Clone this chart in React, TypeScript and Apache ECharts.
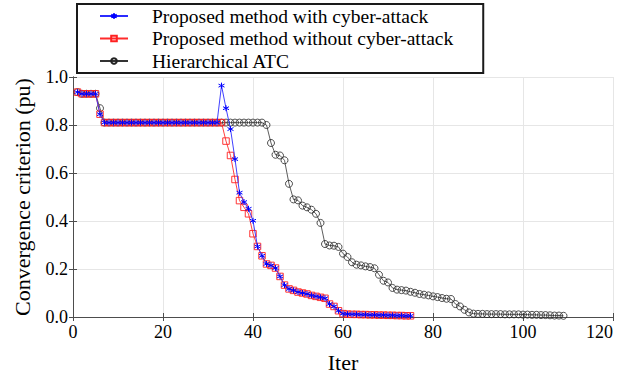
import React, { useEffect, useRef } from "react";
import * as echarts from "echarts";

const xTicks = { min: 0, max: 120, interval: 20 };
const yTicks = { min: 0, max: 1, interval: 0.2 };

const seriesNames = [
  "Proposed method with cyber-attack",
  "Proposed method without cyber-attack",
  "Hierarchical ATC",
];

// Proposed method with cyber-attack, iterations 1..75
const withAttack = [
  0.937, 0.93, 0.93, 0.93, 0.93, 0.845, 0.81, 0.81, 0.81, 0.81,
  0.81, 0.81, 0.81, 0.81, 0.81, 0.81, 0.81, 0.81, 0.81, 0.81,
  0.81, 0.81, 0.81, 0.81, 0.81, 0.81, 0.81, 0.81, 0.81, 0.81,
  0.81, 0.81, 0.964, 0.87, 0.783, 0.658, 0.518, 0.479, 0.451, 0.401,
  0.294, 0.255, 0.221, 0.215, 0.204, 0.169, 0.133, 0.117, 0.111, 0.104,
  0.1, 0.096, 0.09, 0.086, 0.082, 0.078, 0.054, 0.044, 0.026, 0.014,
  0.012, 0.011, 0.011, 0.01, 0.01, 0.009, 0.009, 0.008, 0.008, 0.007,
  0.007, 0.006, 0.006, 0.005, 0.005,
];

// Proposed method without cyber-attack, iterations 1..75
const withoutAttack = [
  0.937, 0.93, 0.93, 0.93, 0.93, 0.845, 0.81, 0.81, 0.81, 0.81,
  0.81, 0.81, 0.81, 0.81, 0.81, 0.81, 0.81, 0.81, 0.81, 0.81,
  0.81, 0.81, 0.81, 0.81, 0.81, 0.81, 0.81, 0.81, 0.81, 0.81,
  0.81, 0.81, 0.81, 0.733, 0.673, 0.573, 0.485, 0.457, 0.43, 0.347,
  0.294, 0.255, 0.221, 0.215, 0.204, 0.169, 0.133, 0.117, 0.111, 0.104,
  0.1, 0.096, 0.09, 0.086, 0.082, 0.078, 0.054, 0.044, 0.026, 0.014,
  0.012, 0.011, 0.011, 0.01, 0.01, 0.009, 0.009, 0.008, 0.008, 0.007,
  0.007, 0.006, 0.006, 0.005, 0.005,
];

// Hierarchical ATC, iterations 1..109
const hierarchicalATC = [
  0.937, 0.93, 0.93, 0.93, 0.93, 0.87, 0.81, 0.81, 0.81, 0.81,
  0.81, 0.81, 0.81, 0.81, 0.81, 0.81, 0.81, 0.81, 0.81, 0.81,
  0.81, 0.81, 0.81, 0.81, 0.81, 0.81, 0.81, 0.81, 0.81, 0.81,
  0.81, 0.81, 0.81, 0.81, 0.81, 0.81, 0.81, 0.81, 0.81, 0.81,
  0.81, 0.81, 0.8, 0.725, 0.676, 0.673, 0.653, 0.555, 0.49, 0.486,
  0.464, 0.457, 0.447, 0.43, 0.392, 0.304, 0.298, 0.297, 0.292, 0.264,
  0.25, 0.228, 0.218, 0.215, 0.211, 0.208, 0.203, 0.176, 0.151, 0.144,
  0.121, 0.114, 0.112, 0.11, 0.105, 0.101, 0.096, 0.093, 0.09, 0.086,
  0.083, 0.079, 0.076, 0.075, 0.054, 0.044, 0.03, 0.019, 0.014, 0.013,
  0.013, 0.012, 0.012, 0.012, 0.012, 0.011, 0.011, 0.011, 0.011, 0.01,
  0.01, 0.009, 0.009, 0.008, 0.008, 0.007, 0.006, 0.006, 0.005,
];

const toPairs = (arr: number[]) => arr.map((v, i) => [i + 1, v]);

const FONT = "Liberation Serif";
const ASTERISK =
  "path://M0,-1L0,1M-0.866,-0.5L0.866,0.5M-0.866,0.5L0.866,-0.5";

export default function App() {
  const ref = useRef<HTMLDivElement>(null);

  useEffect(() => {
    if (!ref.current) return;
    const chart = echarts.init(ref.current, undefined, { renderer: "svg" });
    const axisLineColor = "#4d4d4d";
    const gridColor = "#e6e6e6";
    const labelStyle = { fontFamily: FONT, fontSize: 18, color: "#000" };

    chart.setOption({
      animation: false,
      backgroundColor: "#fff",
      textStyle: { fontFamily: FONT },
      grid: {
        left: 73,
        right: 6,
        top: 77,
        bottom: 56,
        containLabel: false,
        outerBoundsMode: "none",
      },
      legend: {
        data: seriesNames,
        orient: "vertical",
        left: 77,
        top: 4,
        padding: [2, 30, 2, 22],
        itemGap: 2.5,
        itemWidth: 28,
        itemHeight: 7,
        borderColor: "#1a1a1a",
        borderWidth: 2,
        backgroundColor: "#fff",
        textStyle: {
          fontFamily: FONT,
          fontSize: 19.5,
          color: "#000",
          padding: [0, 0, 0, 19],
        },
      },
      xAxis: [
        {
          type: "value",
          min: xTicks.min,
          max: xTicks.max,
          interval: xTicks.interval,
          name: "Iter",
          nameLocation: "middle",
          nameGap: 34,
          nameTextStyle: { fontFamily: FONT, fontSize: 22, color: "#000" },
          axisLine: { show: true, lineStyle: { color: axisLineColor, width: 1 } },
          axisTick: { show: true, inside: true, length: 4, lineStyle: { color: axisLineColor } },
          axisLabel: { ...labelStyle, margin: 6, alignMaxLabel: "right" },
          splitLine: { show: true, lineStyle: { color: gridColor, width: 1 } },
        },
        {
          type: "value",
          position: "top",
          min: xTicks.min,
          max: xTicks.max,
          interval: xTicks.interval,
          axisLine: { show: true, lineStyle: { color: axisLineColor, width: 1 } },
          axisTick: { show: true, inside: true, length: 4, lineStyle: { color: axisLineColor } },
          axisLabel: { show: false },
          splitLine: { show: false },
        },
      ],
      yAxis: [
        {
          type: "value",
          min: yTicks.min,
          max: yTicks.max,
          interval: yTicks.interval,
          name: "Convergence criterion (pu)",
          nameLocation: "middle",
          nameGap: 40,
          nameTextStyle: { fontFamily: FONT, fontSize: 22, color: "#000" },
          axisLine: { show: true, lineStyle: { color: axisLineColor, width: 1 } },
          axisTick: { show: true, inside: true, length: 4, lineStyle: { color: axisLineColor } },
          axisLabel: {
            ...labelStyle,
            margin: 5,
            formatter: (v: number) => v.toFixed(1),
          },
          splitLine: { show: true, lineStyle: { color: gridColor, width: 1 } },
        },
        {
          type: "value",
          position: "right",
          min: yTicks.min,
          max: yTicks.max,
          interval: yTicks.interval,
          axisLine: { show: true, lineStyle: { color: axisLineColor, width: 1 } },
          axisTick: { show: true, inside: true, length: 4, lineStyle: { color: axisLineColor } },
          axisLabel: { show: false },
          splitLine: { show: false },
        },
      ],
      series: [
        {
          name: seriesNames[0],
          type: "line",
          data: toPairs(withAttack),
          z: 4,
          symbol: ASTERISK,
          symbolSize: 6,
          showAllSymbol: true,
          lineStyle: { color: "#2b2bff", width: 0.9 },
          itemStyle: { color: "#0000ff", borderColor: "#0000ff", borderWidth: 1 },
        },
        {
          name: seriesNames[1],
          type: "line",
          data: toPairs(withoutAttack),
          z: 3,
          symbol: "rect",
          symbolSize: 6.5,
          showAllSymbol: true,
          lineStyle: { color: "#ff2b2b", width: 0.9 },
          itemStyle: { color: "none", borderColor: "#ff2020", borderWidth: 0.9 },
        },
        {
          name: seriesNames[2],
          type: "line",
          data: toPairs(hierarchicalATC),
          z: 2,
          symbol: "circle",
          symbolSize: 7,
          showAllSymbol: true,
          lineStyle: { color: "#333", width: 0.8 },
          itemStyle: { color: "none", borderColor: "#222", borderWidth: 0.8 },
        },
      ],
    });
    return () => chart.dispose();
  }, []);

  return <div ref={ref} style={{ width: 619, height: 373, position: "absolute", left: 0, top: 0 }} />;
}
